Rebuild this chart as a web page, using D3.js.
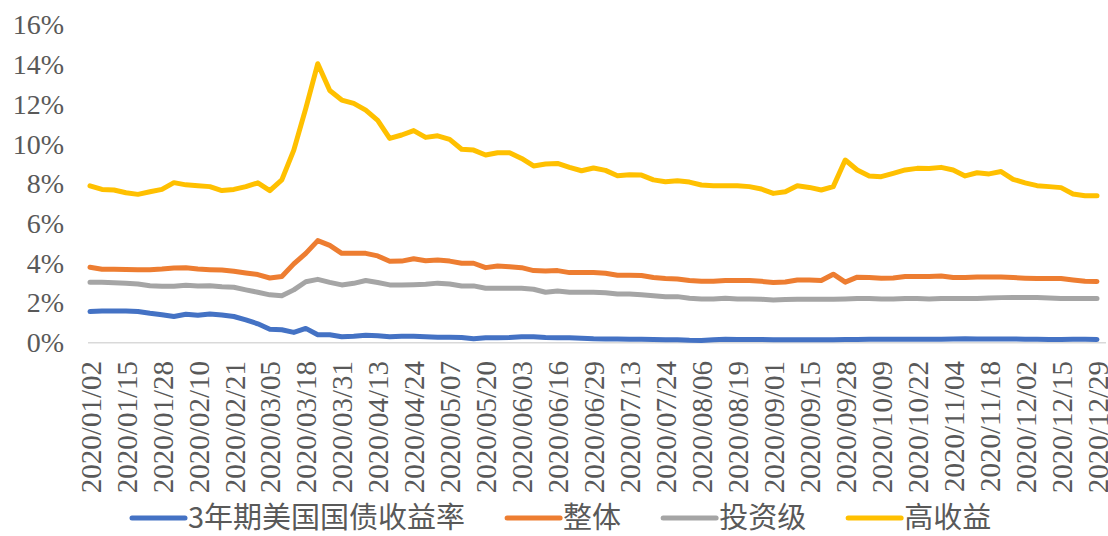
<!DOCTYPE html>
<html>
<head>
<meta charset="utf-8">
<title>US bond yields 2020</title>
<style>
  html, body { margin:0; padding:0; background:#fff; }
  svg { display:block; }
</style>
<script src="https://d3js.org/d3.v7.min.js"></script>
</head>
<body>
<svg id="chart"></svg>
<script>
var width = 1108,
    height = 536;

// sampled every 3 trading days, 2020/01/02 .. 2020/12/29
var dayStep = 3;
var tickLabels = ["2020/01/02","2020/01/15","2020/01/28","2020/02/10","2020/02/21","2020/03/05",
  "2020/03/18","2020/03/31","2020/04/13","2020/04/24","2020/05/07","2020/05/20","2020/06/03",
  "2020/06/16","2020/06/29","2020/07/13","2020/07/24","2020/08/06","2020/08/19","2020/09/01",
  "2020/09/15","2020/09/28","2020/10/09","2020/10/22","2020/11/04","2020/11/18","2020/12/02",
  "2020/12/15","2020/12/29"];
var tickEvery = 9; // trading days between labels

var seriesNames = ["3年期美国国债收益率", "整体", "投资级", "高收益"];
var seriesColors = ["#4472C4", "#ED7D31", "#A5A5A5", "#FFC000"];

var treasury3y = [1.57,1.6,1.6,1.6,1.57,1.48,1.41,1.32,1.43,1.38,1.45,1.4,1.32,1.15,0.95,0.68,0.65,0.52,0.72,0.4,0.4,
  0.3,0.33,0.38,0.35,0.3,0.33,0.32,0.3,0.28,0.27,0.26,0.2,0.25,0.25,0.26,0.3,0.3,0.26,0.25,0.25,0.23,
  0.2,0.19,0.19,0.18,0.17,0.16,0.15,0.15,0.12,0.11,0.15,0.17,0.16,0.16,0.16,0.15,0.15,0.15,0.15,0.15,0.15,
  0.16,0.16,0.17,0.17,0.18,0.17,0.18,0.18,0.18,0.19,0.2,0.19,0.19,0.19,0.19,0.18,0.17,0.16,0.16,0.17,0.17,0.16];

var overall = [3.8,3.7,3.7,3.69,3.68,3.68,3.71,3.76,3.77,3.71,3.68,3.66,3.6,3.51,3.43,3.26,3.33,3.97,4.5,5.14,4.9,
  4.5,4.5,4.5,4.37,4.1,4.11,4.23,4.13,4.16,4.11,4.0,4.0,3.78,3.86,3.83,3.78,3.63,3.61,3.63,3.53,3.53,
  3.53,3.5,3.4,3.4,3.38,3.28,3.23,3.21,3.13,3.09,3.09,3.13,3.13,3.13,3.09,3.03,3.06,3.16,3.16,3.13,3.45,
  3.05,3.3,3.28,3.25,3.26,3.33,3.33,3.33,3.36,3.28,3.28,3.31,3.31,3.31,3.28,3.25,3.23,3.23,3.23,3.16,3.09,3.08];

var investGrade = [3.04,3.04,3.02,3.0,2.96,2.87,2.84,2.84,2.89,2.86,2.87,2.82,2.79,2.66,2.54,2.41,2.36,2.66,3.07,3.19,3.04,
  2.91,2.99,3.13,3.03,2.91,2.91,2.92,2.94,3.0,2.96,2.86,2.86,2.74,2.74,2.74,2.74,2.69,2.54,2.6,2.54,2.54,
  2.54,2.52,2.45,2.45,2.41,2.36,2.32,2.32,2.24,2.2,2.2,2.24,2.2,2.2,2.19,2.15,2.17,2.19,2.19,2.19,2.19,
  2.2,2.22,2.22,2.2,2.2,2.22,2.22,2.2,2.22,2.22,2.22,2.23,2.25,2.27,2.28,2.28,2.28,2.25,2.23,2.23,2.23,2.23];

var highYield = [7.9,7.72,7.69,7.55,7.47,7.6,7.72,8.06,7.95,7.9,7.86,7.66,7.72,7.86,8.05,7.66,8.2,9.7,11.8,14.05,12.7,
  12.22,12.05,11.71,11.2,10.29,10.46,10.68,10.34,10.42,10.24,9.74,9.7,9.45,9.57,9.57,9.28,8.9,9.0,9.03,8.83,8.66,
  8.8,8.68,8.41,8.46,8.44,8.2,8.11,8.16,8.09,7.94,7.9,7.9,7.91,7.86,7.74,7.52,7.6,7.9,7.82,7.69,7.86,
  9.2,8.7,8.4,8.36,8.53,8.7,8.78,8.77,8.83,8.7,8.4,8.56,8.5,8.62,8.23,8.05,7.91,7.86,7.81,7.49,7.4,7.4];

var yTicks = [0, 2, 4, 6, 8, 10, 12, 14, 16];

var allSeries = [treasury3y, overall, investGrade, highYield];

var svg = d3.select("#chart")
    .attr("width", width)
    .attr("height", height)
    .style("font-family", "'Liberation Serif', 'Times New Roman', serif");

svg.append("rect").attr("width", width).attr("height", height).attr("fill", "#fff");

var lastDay = (tickLabels.length - 1) * tickEvery;
var x = d3.scaleLinear().domain([0, lastDay]).range([90, 1097]);
var y = d3.scaleLinear().domain([0, 16]).range([342.7, 25]);

// baseline at 0%
svg.append("line")
    .attr("x1", 88).attr("x2", 1106)
    .attr("y1", y(0)).attr("y2", y(0))
    .attr("stroke", "#D9D9D9")
    .attr("stroke-width", 1.5);

// y axis labels
var yAxis = d3.axisLeft(y)
    .tickValues(yTicks)
    .tickFormat(function(d) { return d + "%"; })
    .tickSize(0)
    .tickPadding(0);
var gy = svg.append("g").attr("transform", "translate(64,0)").call(yAxis);
gy.select(".domain").remove();
gy.selectAll("text")
    .attr("fill", "#595959")
    .style("font-size", "28px")
    .style("font-family", "'Liberation Serif', 'Times New Roman', serif");

// x axis labels (rotated)
var xAxis = d3.axisBottom(x)
    .tickValues(d3.range(0, lastDay + 1, tickEvery))
    .tickFormat(function(d, i) { return tickLabels[i]; })
    .tickSize(0);
var gx = svg.append("g").attr("transform", "translate(0,361)").call(xAxis);
gx.select(".domain").remove();
gx.selectAll("text")
    .attr("fill", "#595959")
    .attr("transform", "rotate(-90)")
    .attr("x", 0)
    .attr("y", 0)
    .attr("dy", "0.35em")
    .attr("text-anchor", "end")
    .style("font-size", "29px")
    .style("font-family", "'Liberation Serif', 'Times New Roman', serif");

// lines
var line = d3.line()
    .x(function(d, i) { return x(i * dayStep); })
    .y(function(d) { return y(d); });

svg.append("g").selectAll("path")
    .data(allSeries)
    .enter().append("path")
    .attr("d", line)
    .attr("fill", "none")
    .attr("stroke", function(d, i) { return seriesColors[i]; })
    .attr("stroke-width", 5)
    .attr("stroke-linejoin", "round")
    .attr("stroke-linecap", "round");

// legend
var legend = svg.append("g").attr("transform", "translate(0,518)");
var lx = 132;
seriesNames.forEach(function(name, i) {
  legend.append("line")
    .attr("x1", lx).attr("x2", lx + 53)
    .attr("y1", 0).attr("y2", 0)
    .attr("stroke", seriesColors[i])
    .attr("stroke-width", 5)
    .attr("stroke-linecap", "round");
  var t = legend.append("text")
    .attr("x", lx + 56)
    .attr("y", 0)
    .attr("dy", "0.36em")
    .attr("fill", "#595959")
    .style("font-size", "29px")
    .style("font-family", "'Noto Sans CJK SC', sans-serif")
    .text(name);
  lx += 56 + t.node().getComputedTextLength() + 42;
});
</script>
</body>
</html>
